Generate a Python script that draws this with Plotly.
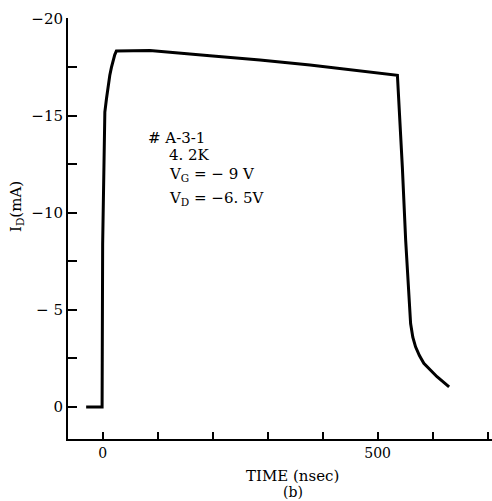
import plotly.graph_objects as go

# Drain current pulse response (time in nsec, current in mA)
time_ns = [-30, -1, 0, 4, 7, 10, 13, 16, 19, 22, 25, 86, 195, 286, 377, 437, 536,
           545, 551, 560, 564, 569, 576, 584, 596, 608, 630]
current_ma = [0, 0, -8.4, -15.2, -15.9, -16.6, -17.1, -17.5, -17.85, -18.15, -18.35,
              -18.37, -18.11, -17.89, -17.63, -17.43, -17.1, -12.35, -8.6, -4.3,
              -3.6, -3.1, -2.65, -2.25, -1.88, -1.56, -1.04]

y_tickvals = [0, -5, -10, -15, -20]
y_ticktext = ["0", "− 5", "−10", "−15", "−20"]
x_tickvals = [0, 500]
x_ticktext = ["0", "500"]

info_lines = ["# A-3-1", "4. 2K", "V<sub>G</sub> = − 9 V", "V<sub>D</sub> = −6. 5V"]

FONT = "DejaVu Serif"

fig = go.Figure()
fig.add_trace(go.Scatter(
    x=time_ns, y=current_ma, mode="lines",
    line=dict(color="black", width=3),
    hoverinfo="skip", showlegend=False,
))

fig.update_xaxes(
    range=[-63, 708], showgrid=False, zeroline=False,
    showline=True, linecolor="black", linewidth=2,
    tickvals=x_tickvals, ticktext=x_ticktext,
    ticks="inside", ticklen=7, tickwidth=1.5, tickcolor="black",
    minor=dict(dtick=100, tick0=0, ticks="inside", ticklen=7,
               tickwidth=1.5, tickcolor="black"),
    tickfont=dict(family=FONT, size=14, color="black"),
)
fig.update_yaxes(
    range=[1.65, -20.05], showgrid=False, zeroline=False,
    showline=True, linecolor="black", linewidth=2,
    tickvals=y_tickvals, ticktext=y_ticktext,
    ticks="inside", ticklen=9, tickwidth=1.5, tickcolor="black",
    minor=dict(dtick=2.5, tick0=0, ticks="inside", ticklen=9,
               tickwidth=1.5, tickcolor="black"),
    tickfont=dict(family=FONT, size=15, color="black"),
)

annotations = [
    dict(text="I<sub>D</sub>(mA)", x=17, y=207, textangle=-90, size=15),
    dict(text="TIME (nsec)", x=292, y=476, size=15),
    dict(text="(b)", x=293, y=492, size=14),
]
info_pos = [(146, 138), (167, 155), (167, 174), (167, 198)]
for txt, (px, py) in zip(info_lines, info_pos):
    annotations.append(dict(text=txt, x=px, y=py, xanchor="left", size=15))

W, H = 492, 501
L, R, T, B = 68, 0, 18, 62
for a in annotations:
    a["xref"] = "paper"
    a["yref"] = "paper"
    a["showarrow"] = False
    a["x"] = (a["x"] - L) / (W - L - R)
    a["y"] = 1 - (a["y"] - T) / (H - T - B)
    a.setdefault("xanchor", "center")
    a["yanchor"] = "middle"
    a["font"] = dict(family=FONT, size=a.pop("size"), color="black")

fig.update_layout(
    width=W, height=H,
    margin=dict(l=L, r=R, t=T, b=B),
    paper_bgcolor="white", plot_bgcolor="white",
    annotations=annotations,
)

fig.write_html("out.html")
